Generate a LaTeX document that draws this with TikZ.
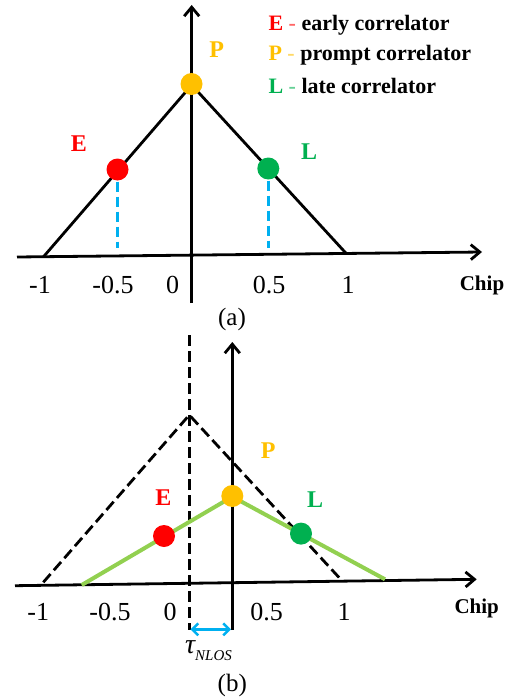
\documentclass[tikz,border=0pt]{standalone}
\usepackage{fontspec}
\setmainfont{Liberation Serif}
\usetikzlibrary{arrows.meta}
\definecolor{cred}{HTML}{FF0000}
\definecolor{corange}{HTML}{FFC000}
\definecolor{cgreen}{HTML}{00B050}
\definecolor{clgreen}{HTML}{92D050}
\definecolor{cblue}{HTML}{00B0F0}
\begin{document}
\begin{tikzpicture}[x=1pt,y=-1pt,
  axis/.style={line width=2.8pt,-{Straight Barb[length=9pt,width=15pt]}},
  tri/.style={line width=2.8pt},
  dot/.style={circle,minimum size=22pt,inner sep=0pt,fill=#1},
  lbl/.style={font=\fontsize{24}{26}\selectfont\bfseries,inner sep=0pt},
  legend/.style={font=\fontsize{22}{24}\selectfont\bfseries,inner sep=0pt,anchor=base west},
  tick/.style={font=\fontsize{26}{28}\selectfont,inner sep=0pt},
  chip/.style={font=\fontsize{21}{23}\selectfont\bfseries,inner sep=0pt,anchor=base},
  captext/.style={font=\fontsize{25}{27}\selectfont,inner sep=0pt},
  blkdash/.style={line width=2.8pt,dash pattern=on 11pt off 5pt},
  bluedash/.style={cblue,line width=2.8pt,dash pattern=on 10pt off 5pt},
  greenline/.style={clgreen,line width=4pt}]
\useasboundingbox (0,0) rectangle (515,698);
% ---------- panel (a) ----------
\coordinate (ax0) at (17,257);
\coordinate (ax1) at (482,252);
\coordinate (ay0) at (191.7,303);
\coordinate (ay1) at (191.7,5);
\coordinate (tl) at (43.3,257);
\coordinate (tp) at (191.7,85);
\coordinate (tr) at (346.7,254);
\coordinate (eb) at (117.5,248);
\coordinate (lb) at (268.3,248);
\draw[axis] (ax0) -- (ax1);
\draw[axis] (ay0) -- (ay1);
\draw[tri] (tl) -- (tp) -- (tr);
\node[dot=cred] (dE) at (117.5,169.5) {};
\node[dot=cgreen] (dL) at (268.3,168.5) {};
\node[dot=corange] (dP) at (191.5,84) {};
\draw[bluedash] ([yshift=-1pt]dE.south) -- (eb);
\draw[bluedash] ([yshift=-1pt]dL.south) -- (lb);
\node[lbl,text=cred] (lE) at (79,144) {E};
\node[lbl,text=corange] (lP) at (216.7,50) {P};
\node[lbl,text=cgreen] (lL) at (309,152) {L};
\node[legend] (g1) at (268.3,30.7) {\textcolor{cred}{E} \textcolor{cred!60}{-} early correlator};
\node[legend] (g2) at (268.3,61) {\textcolor{corange}{P} \textcolor{corange!60}{-} prompt correlator};
\node[legend] (g3) at (268.3,93.3) {\textcolor{cgreen}{L} \textcolor{cgreen!60}{-} late correlator};
\node[tick] (ta1) at (40,285) {-1};
\node[tick] (ta2) at (113,285) {-0.5};
\node[tick] (ta3) at (172.5,285) {0};
\node[tick] (ta4) at (269,285) {0.5};
\node[tick] (ta5) at (348,285) {1};
\node[chip] (ca) at (482,290) {Chip};
\node[captext] (capa) at (232,319) {(a)};
% ---------- panel (b) ----------
\coordinate (bx0) at (15,585.7);
\coordinate (bx1) at (476.7,579.3);
\coordinate (by0) at (232.3,630);
\coordinate (by1) at (232.3,342);
\coordinate (dv0) at (189.3,335);
\coordinate (dv1) at (189.3,630);
\coordinate (dl) at (43.3,582.3);
\coordinate (dp) at (189.3,415);
\coordinate (dr) at (340.7,579.3);
\coordinate (gl) at (81.7,585);
\coordinate (gp) at (232.3,496.7);
\coordinate (gr) at (385,579.3);
\draw[blkdash] (dv0) -- (dv1);
\draw[blkdash] (dl) -- (dp) -- (dr);
\draw[axis] (bx0) -- (bx1);
\draw[axis] (by0) -- (by1);
\draw[greenline] (gl) -- (gp) -- (gr);
\node[dot=cred] (bE) at (164,536) {};
\node[dot=cgreen] (bL) at (301,533.6) {};
\node[dot=corange] (bP) at (232.3,496) {};
\node[lbl,text=cred] (blE) at (163.3,497.7) {E};
\node[lbl,text=corange] (blP) at (268.3,451) {P};
\node[lbl,text=cgreen] (blL) at (315,499.3) {L};
\node[tick] (tb1) at (38.3,611.7) {-1};
\node[tick] (tb2) at (110,611.7) {-0.5};
\node[tick] (tb3) at (170,611.7) {0};
\node[tick] (tb4) at (266.7,611.7) {0.5};
\node[tick] (tb5) at (344,611.7) {1};
\node[chip] (cb) at (476.7,613.3) {Chip};
\coordinate (da0) at (190.5,629.3);
\coordinate (da1) at (231,629.3);
\draw[cblue,line width=2.5pt,{Straight Barb[length=6pt,width=12pt]}-{Straight Barb[length=6pt,width=12pt]}] (da0) -- (da1);
\node[inner sep=0pt,anchor=base west] (tau) at (185,653) {\fontsize{28}{30}\selectfont\itshape τ\raisebox{-7pt}{\fontsize{15}{16}\selectfont NLOS}};
\node[captext] (capb) at (232.3,685) {(b)};
\end{tikzpicture}
\end{document}
